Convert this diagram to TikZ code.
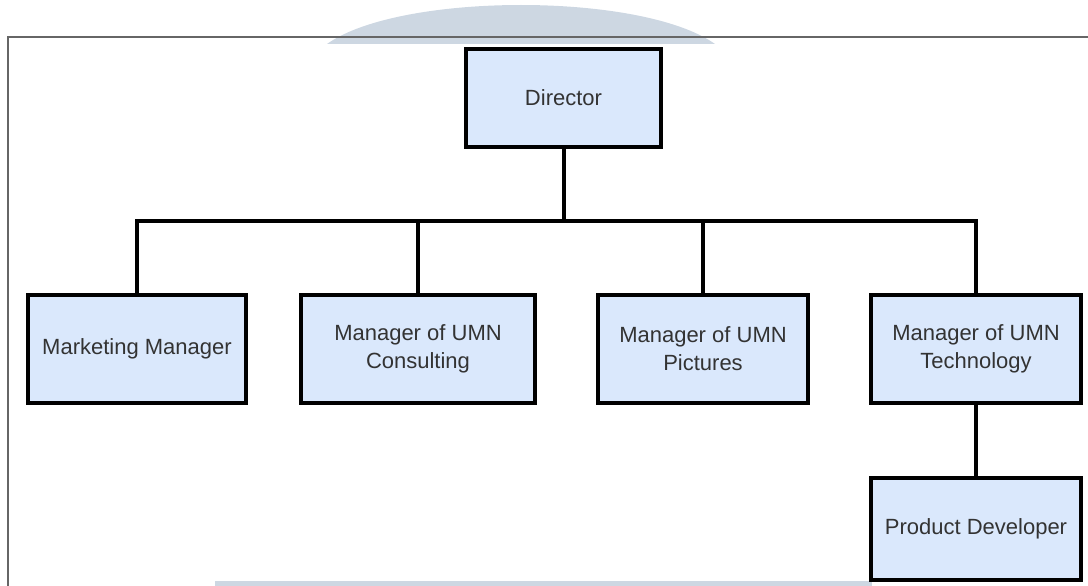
\documentclass[tikz,border=0pt]{standalone}
\usepackage{fontspec}
\setmainfont{Liberation Sans}
\usetikzlibrary{positioning}
\definecolor{boxfill}{HTML}{DAE8FC}
\definecolor{txtgray}{HTML}{333333}
\definecolor{wmark}{HTML}{CDD7E2}
\definecolor{framegray}{HTML}{666666}

\begin{document}
\begin{tikzpicture}[x=1pt,y=-1pt,
  box/.style={rectangle,draw=black,line width=4pt,fill=boxfill,text=txtgray,
    font=\fontsize{22}{28}\selectfont,align=center,inner sep=0pt,
    minimum height=108pt},
  link/.style={draw=black,line width=4pt}]

  \useasboundingbox (0,0) rectangle (1088,586);

  % Hintergrund
  \fill[wmark] (327,44) .. controls (400,-8) and (642,-8) .. (715,44) -- cycle;
  \fill[wmark] (215,581) rectangle (872,586);
  \draw[framegray,line width=1.5pt] (1088,37) -- (8,37) -- (8,586);

  % 1. Ebene
  \node[box,minimum width=195pt,minimum height=98pt] (Dir) at (563.5,98) {Director};
  \coordinate[below=123pt of Dir.center] (bus);

  % 2. Ebene
  \node[box,minimum width=218pt] (MM) [below left=251pt and 426.5pt of Dir.center,anchor=center] {Marketing Manager};
  \node[box,minimum width=234pt] (MC) [below left=251pt and 145.5pt of Dir.center,anchor=center] {Manager of UMN\\Consulting};
  \node[box,minimum width=210pt] (MP) [below right=251pt and 139.5pt of Dir.center,anchor=center] {Manager of UMN\\Pictures};
  \node[box,minimum width=210pt] (MT) [below right=251pt and 412.5pt of Dir.center,anchor=center] {Manager of UMN\\Technology};

  % 3. Ebene
  \node[box,minimum width=210pt,minimum height=102pt] (PD) [below=180pt of MT.center,anchor=center] {Product Developer};

  \draw[link] (Dir.south) -- (bus);
  \draw[link] (MM.north) |- (bus) -| (MT.north);
  \draw[link] (MC.north) -- (MC.north |- bus);
  \draw[link] (MP.north) -- (MP.north |- bus);
  \draw[link] (MT.south) -- (PD.north);

\end{tikzpicture}
\end{document}
